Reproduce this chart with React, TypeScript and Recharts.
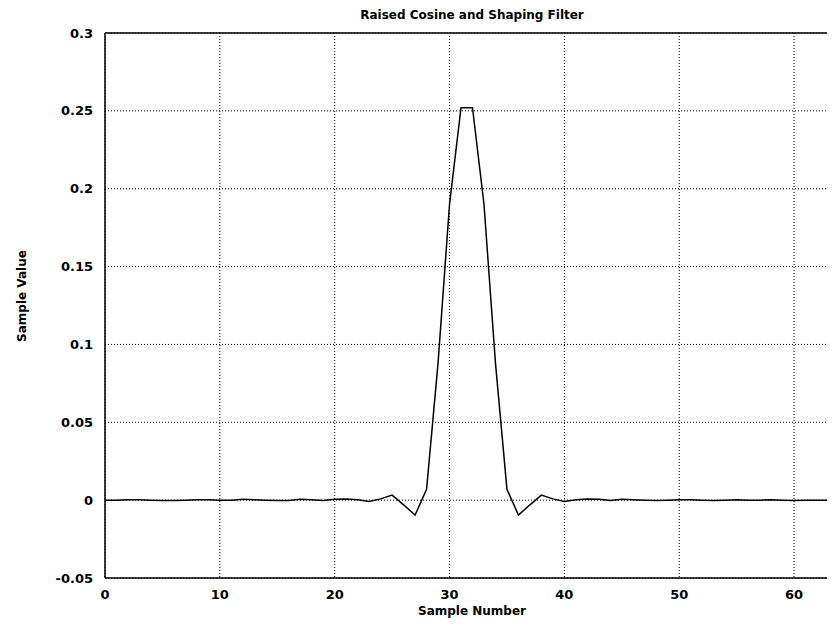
import { LineChart, Line, XAxis, YAxis, CartesianGrid } from "recharts";

// sample index along the filter
const samples = [
  0, 1, 2, 3, 4, 5, 6, 7, 8, 9, 10, 11, 12, 13, 14, 15, 16, 17, 18, 19, 20, 21,
  22, 23, 24, 25, 26, 27, 28, 29, 30, 31, 32, 33, 34, 35, 36, 37, 38, 39, 40,
  41, 42, 43, 44, 45, 46, 47, 48, 49, 50, 51, 52, 53, 54, 55, 56, 57, 58, 59,
  60, 61, 62, 63,
];

// filter taps
const values = [
  0, 0, 0.0002, 0.0002, 0, -0.0002, -0.0002, 0, 0.0002, 0.0002, 0, 0, 0.0005,
  0.0003, 0, -0.0003, -0.0003, 0.0005, 0.0003, -0.0003, 0.0006, 0.0008, 0.0003,
  -0.0008, 0.0008, 0.0032, -0.003, -0.0096, 0.007, 0.088, 0.19, 0.252, 0.252,
  0.19, 0.088, 0.007, -0.0096, -0.003, 0.0032, 0.0008, -0.0008, 0.0003, 0.0008,
  0.0006, -0.0003, 0.0005, 0.0002, 0, -0.0002, 0, 0.0002, 0.0002, 0, -0.0002,
  0, 0.0002, 0, 0, 0.0002, 0, -0.0002, 0, 0, 0,
];

const xTicks = [0, 10, 20, 30, 40, 50, 60];
const yTicks = [-0.05, 0, 0.05, 0.1, 0.15, 0.2, 0.25, 0.3];

const data = samples.map((s, i) => ({ sample: s, value: values[i] }));

const font = "'DejaVu Sans', sans-serif";
const tickStyle = { fontFamily: font, fontSize: 13, fontWeight: 700, fill: "#000" };
const labelStyle = {
  position: "absolute" as const,
  fontFamily: font,
  fontSize: 12,
  fontWeight: 700,
  whiteSpace: "nowrap" as const,
};

export default function App() {
  return (
    <div
      style={{
        position: "relative",
        marginLeft: -8,
        marginTop: -8,
        width: 835,
        height: 626,
        overflow: "hidden",
        background: "#fff",
      }}
    >
      <LineChart
        width={900}
        height={626}
        data={data}
        margin={{ top: 32, right: 60, bottom: 18, left: 0 }}
      >
        <CartesianGrid
          stroke="#000"
          strokeDasharray="1 2"
          strokeWidth={1}
          horizontalValues={yTicks}
          verticalValues={xTicks}
        />
        <XAxis
          dataKey="sample"
          type="number"
          domain={[0, 64]}
          ticks={xTicks}
          allowDataOverflow
          height={30}
          tickLine={false}
          tickSize={0}
          tickMargin={12}
          axisLine={{ stroke: "#000", strokeWidth: 1.5 }}
          tick={tickStyle}
        />
        <XAxis
          xAxisId="top"
          orientation="top"
          dataKey="sample"
          type="number"
          domain={[0, 64]}
          tick={false}
          tickLine={false}
          height={1}
          axisLine={{ stroke: "#000", strokeWidth: 1.5 }}
        />
        <YAxis
          type="number"
          domain={[-0.05, 0.3]}
          ticks={yTicks}
          allowDataOverflow
          width={105}
          tickLine={false}
          tickSize={0}
          tickMargin={12}
          axisLine={{ stroke: "#000", strokeWidth: 1.5 }}
          tick={tickStyle}
        />
        <Line
          type="linear"
          dataKey="value"
          stroke="#000"
          strokeWidth={1.5}
          dot={false}
          isAnimationActive={false}
        />
      </LineChart>
      <div style={{ ...labelStyle, left: 472, top: 15, transform: "translate(-50%, -50%)" }}>
        Raised Cosine and Shaping Filter
      </div>
      <div style={{ ...labelStyle, left: 472, top: 611, transform: "translate(-50%, -50%)" }}>
        Sample Number
      </div>
      <div
        style={{
          ...labelStyle,
          left: 22,
          top: 296,
          transform: "translate(-50%, -50%) rotate(-90deg)",
        }}
      >
        Sample Value
      </div>
    </div>
  );
}
